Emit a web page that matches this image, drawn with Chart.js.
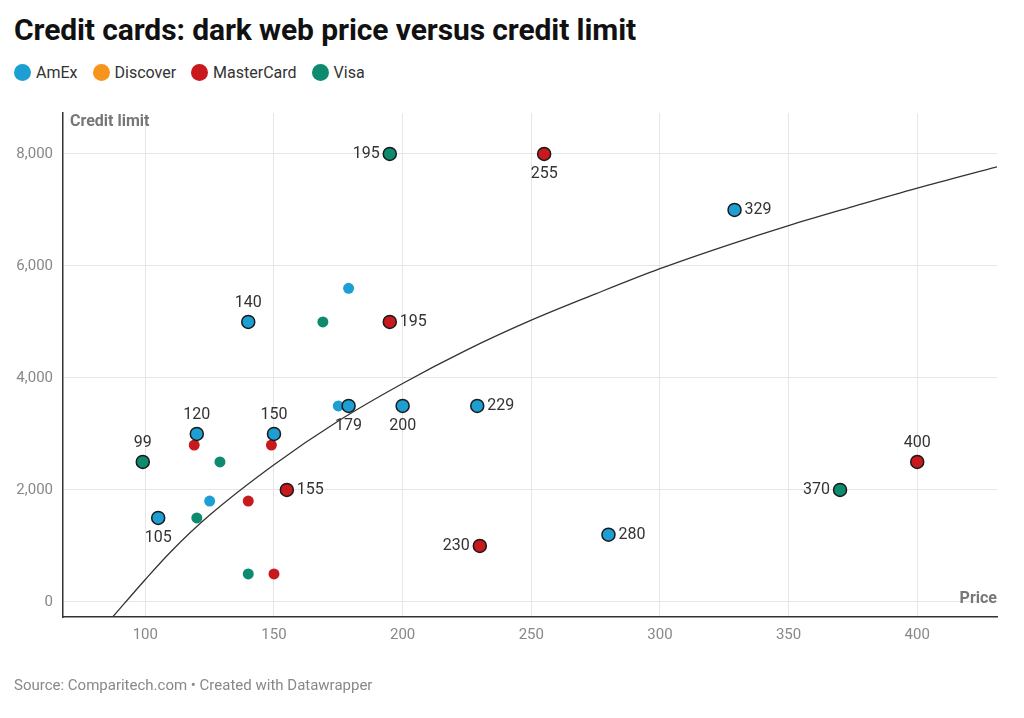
<!DOCTYPE html>
<html lang="en">
  <head>
    <meta charset="UTF-8" />
    <title>Credit cards: dark web price versus credit limit</title>
    <style>
      body {
        margin: 0;
        width: 1024px;
        height: 718px;
        position: relative;
        background: #fff;
        font-family: Roboto, "Noto Sans", sans-serif;
        overflow: hidden;
      }

      h1 {
        position: absolute;
        left: 14px;
        top: 12px;
        margin: 0;
        font-size: 30px;
        font-weight: 700;
        color: #111;
        letter-spacing: -0.1px;
      }

      .legend {
        position: absolute;
        left: 14px;
        top: 63px;
        display: flex;
        gap: 15px;
        font-size: 16px;
        color: #333;
      }

      .legend span {
        display: flex;
        align-items: center;
      }

      .legend i {
        display: inline-block;
        width: 17px;
        height: 17px;
        border-radius: 50%;
        margin-right: 5px;
      }

      canvas {
        position: absolute;
        left: 0;
        top: 0;
      }

      .source {
        position: absolute;
        left: 14px;
        top: 676px;
        font-size: 15px;
        color: #888;
      }
    </style>
  </head>
  <body>
    <h1>Credit cards: dark web price versus credit limit</h1>
    <div class="legend" id="legend"></div>
    <canvas id="scatter" width="1024" height="718"></canvas>
    <div class="source">Source: Comparitech.com • Created with Datawrapper</div>

    <script src="https://cdn.jsdelivr.net/npm/chart.js"></script>
    <script>
      // highlighted (labelled) cards
      var amexPrice = [140, 120, 150, 105, 179, 200, 229, 280, 329];
      var amexLimit = [5000, 3000, 3000, 1500, 3500, 3500, 3500, 1200, 7000];
      var masterPrice = [255, 195, 155, 230, 400];
      var masterLimit = [8000, 5000, 2000, 1000, 2500];
      var visaPrice = [195, 99, 370];
      var visaLimit = [8000, 2500, 2000];
      var discoverPrice = [];
      var discoverLimit = [];

      // other cards, no label
      var amexOtherPrice = [179, 175, 125];
      var amexOtherLimit = [5600, 3500, 1800];
      var masterOtherPrice = [119, 149, 140, 150];
      var masterOtherLimit = [2800, 2800, 1800, 500];
      var visaOtherPrice = [169, 129, 120, 140];
      var visaOtherLimit = [5000, 2500, 1500, 500];

      // trend line
      var trendPrice = [87.3, 100, 110, 125, 150, 175, 200, 225, 250, 275, 300, 325, 350, 375, 400, 431];
      var trendLimit = [-270, 400, 900, 1550, 2450, 3230, 3900, 4500, 5030, 5500, 5950, 6350, 6720, 7060, 7390, 7770];

      var xTicks = [100, 150, 200, 250, 300, 350, 400];
      var yTicks = [0, 2000, 4000, 6000, 8000];

      var brands = ["AmEx", "Discover", "MasterCard", "Visa"];
      var brandColors = ["#1d9fd4", "#f7941d", "#c8191d", "#0e8a6e"];

      // where each label sits relative to its dot
      var labelSide = {
        AmEx: ["top", "top", "top", "bottom", "bottom", "bottom", "right", "right", "right"],
        MasterCard: ["bottom", "right", "right", "left", "top"],
        Visa: ["left", "top", "left"],
      };

      var legend = document.getElementById("legend");
      brands.forEach(function (name, i) {
        var item = document.createElement("span");
        item.innerHTML = '<i style="background:' + brandColors[i] + '"></i>' + name;
        legend.appendChild(item);
      });

      function points(xs, ys) {
        return xs.map(function (x, i) {
          return { x: x, y: ys[i] };
        });
      }

      function bigSet(name, xs, ys, color) {
        return {
          label: name,
          data: points(xs, ys),
          backgroundColor: color,
          borderColor: "#1a1a1a",
          borderWidth: 1.5,
          pointRadius: 6.5,
          order: 1,
          showLabels: true,
        };
      }

      function smallSet(name, xs, ys, color) {
        return {
          label: name,
          data: points(xs, ys),
          backgroundColor: color,
          borderWidth: 0,
          pointRadius: 5.5,
          order: 2,
        };
      }

      var pointLabels = {
        id: "pointLabels",
        afterDatasetsDraw: function (chart) {
          var ctx = chart.ctx;
          ctx.save();
          ctx.font = "16px Roboto";
          ctx.fillStyle = "#333";
          chart.data.datasets.forEach(function (ds, di) {
            if (!ds.showLabels) return;
            var sides = labelSide[ds.label] || [];
            chart.getDatasetMeta(di).data.forEach(function (pt, i) {
              var text = String(ds.data[i].x);
              var side = sides[i] || "right";
              var x = pt.x,
                y = pt.y;
              if (side === "top") {
                ctx.textAlign = "center";
                ctx.textBaseline = "bottom";
                y -= 11;
              } else if (side === "bottom") {
                ctx.textAlign = "center";
                ctx.textBaseline = "top";
                y += 12;
              } else if (side === "left") {
                ctx.textAlign = "right";
                ctx.textBaseline = "middle";
                x -= 10;
              } else {
                ctx.textAlign = "left";
                ctx.textBaseline = "middle";
                x += 10;
              }
              ctx.fillText(text, x, y);
            });
          });
          ctx.restore();
        },
      };

      var axisTitles = {
        id: "axisTitles",
        afterDraw: function (chart) {
          var ctx = chart.ctx;
          var area = chart.chartArea;
          ctx.save();
          ctx.font = "bold 16px Roboto";
          ctx.fillStyle = "#777";
          ctx.textBaseline = "top";
          ctx.textAlign = "left";
          ctx.fillText("Credit limit", area.left + 7, area.top + 1);
          ctx.textAlign = "right";
          ctx.textBaseline = "bottom";
          ctx.fillText("Price", area.right, chart.scales.y.getPixelForValue(0) + 5);
          ctx.restore();
        },
      };

      var ctx = document.getElementById("scatter").getContext("2d");
      new Chart(ctx, {
        type: "scatter",
        data: {
          datasets: [
            {
              type: "line",
              label: "Trend",
              data: points(trendPrice, trendLimit),
              borderColor: "#333",
              borderWidth: 1.3,
              pointRadius: 0,
              fill: false,
              cubicInterpolationMode: "monotone",
              order: 0,
            },
            smallSet("AmEx", amexOtherPrice, amexOtherLimit, brandColors[0]),
            smallSet("MasterCard", masterOtherPrice, masterOtherLimit, brandColors[2]),
            smallSet("Visa", visaOtherPrice, visaOtherLimit, brandColors[3]),
            bigSet("AmEx", amexPrice, amexLimit, brandColors[0]),
            bigSet("Discover", discoverPrice, discoverLimit, brandColors[1]),
            bigSet("MasterCard", masterPrice, masterLimit, brandColors[2]),
            bigSet("Visa", visaPrice, visaLimit, brandColors[3]),
          ],
        },
        options: {
          responsive: false,
          animation: false,
          layout: {
            padding: { left: 13, right: 27, top: 113, bottom: 61 },
          },
          plugins: {
            legend: { display: false },
            tooltip: { enabled: false },
          },
          scales: {
            x: {
              type: "linear",
              min: 68,
              max: 431,
              afterBuildTicks: function (scale) {
                scale.ticks = xTicks.map(function (v) {
                  return { value: v };
                });
              },
              afterFit: function (scale) {
                scale.height = 40;
              },
              grid: { color: "#e6e6e6", drawTicks: false },
              border: { color: "#333", width: 1.5 },
              ticks: {
                padding: 9,
                color: "#888",
                font: { family: "Roboto", size: 15 },
              },
            },
            y: {
              type: "linear",
              min: -270,
              max: 8730,
              afterBuildTicks: function (scale) {
                scale.ticks = yTicks.map(function (v) {
                  return { value: v };
                });
              },
              afterFit: function (scale) {
                scale.width = 50;
              },
              grid: { color: "#e6e6e6", drawTicks: false },
              border: { color: "#333", width: 1.5 },
              ticks: {
                padding: 10,
                color: "#888",
                font: { family: "Roboto", size: 15 },
                callback: function (v) {
                  return v.toLocaleString("en-US");
                },
              },
            },
          },
        },
        plugins: [pointLabels, axisTitles],
      });
    </script>
  </body>
</html>
